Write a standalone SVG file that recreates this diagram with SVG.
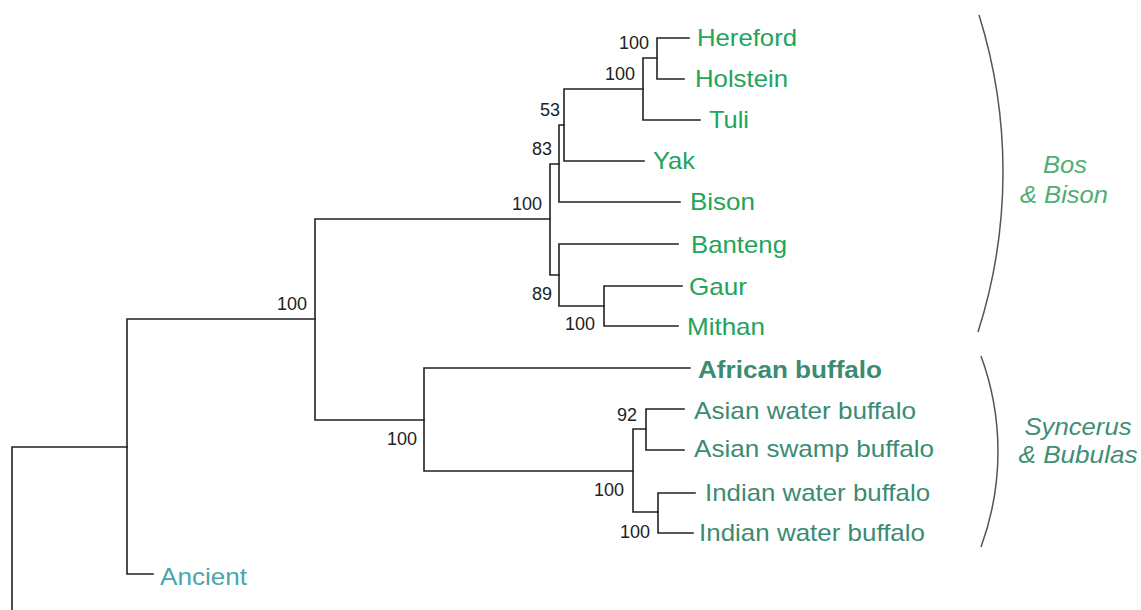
<svg xmlns="http://www.w3.org/2000/svg" width="1141" height="610" viewBox="0 0 1141 610">
<style>
.ln{fill:none;stroke:#222;stroke-width:1.6;stroke-linecap:square}
.br{fill:none;stroke:#555;stroke-width:1.5}
.num{font-family:"Liberation Sans",Arial,sans-serif;font-size:18px;fill:#222;text-anchor:end}
.lf{font-family:"Liberation Sans",Arial,sans-serif;font-size:24px}
.bos{fill:#22a45a}
.buf{fill:#3b8b73}
.anc{fill:#4aa6ad}
.grp{font-family:"Liberation Sans",Arial,sans-serif;font-size:24px;font-style:italic;text-anchor:middle}
</style>
<rect width="1141" height="610" fill="#fff"/>
<g id="connectors">
<path class="ln" d="M12,610V447H127"/>
<path class="ln" d="M127,319V574H153M127,319H315"/>
<path class="ln" d="M315,219V420H424M315,219H550"/>
<path class="ln" d="M550,164V275H559M550,164H559"/>
<path class="ln" d="M559,125V202H680M559,125H564"/>
<path class="ln" d="M564,89V161H644M564,89H643"/>
<path class="ln" d="M643,58V120H700M643,58H657"/>
<path class="ln" d="M657,38V79H684M657,38H689"/>
<path class="ln" d="M559,244V306H604M559,244H678"/>
<path class="ln" d="M604,286V326H678M604,286H682"/>
<path class="ln" d="M424,368V471H633M424,368H690"/>
<path class="ln" d="M633,429V512H658M633,429H646"/>
<path class="ln" d="M646,409V450H684M646,409H684"/>
<path class="ln" d="M658,493V533H693M658,493H695"/>
</g>
<g id="support">
<text class="num" x="649" y="49">100</text>
<text class="num" x="635" y="80">100</text>
<text class="num" x="560" y="116">53</text>
<text class="num" x="552" y="155">83</text>
<text class="num" x="542" y="210">100</text>
<text class="num" x="552" y="300">89</text>
<text class="num" x="595" y="330">100</text>
<text class="num" x="307" y="310">100</text>
<text class="num" x="417" y="445">100</text>
<text class="num" x="637" y="421">92</text>
<text class="num" x="624" y="496">100</text>
<text class="num" x="650" y="538">100</text>
</g>
<g id="hereford"><text class="lf bos" x="697" y="46" textLength="100" lengthAdjust="spacingAndGlyphs">Hereford</text></g>
<g id="holstein"><text class="lf bos" x="695" y="87" textLength="93" lengthAdjust="spacingAndGlyphs">Holstein</text></g>
<g id="tuli"><text class="lf bos" x="709" y="128" textLength="40" lengthAdjust="spacingAndGlyphs">Tuli</text></g>
<g id="yak"><text class="lf bos" x="653" y="169" textLength="42" lengthAdjust="spacingAndGlyphs">Yak</text></g>
<g id="bison"><text class="lf bos" x="690" y="210" textLength="65" lengthAdjust="spacingAndGlyphs">Bison</text></g>
<g id="banteng"><text class="lf bos" x="691" y="253" textLength="96" lengthAdjust="spacingAndGlyphs">Banteng</text></g>
<g id="gaur"><text class="lf bos" x="689" y="295" textLength="58" lengthAdjust="spacingAndGlyphs">Gaur</text></g>
<g id="mithan"><text class="lf bos" x="687" y="335" textLength="78" lengthAdjust="spacingAndGlyphs">Mithan</text></g>
<g id="african"><text class="lf buf" x="698" y="378" font-weight="bold" textLength="184" lengthAdjust="spacingAndGlyphs">African buffalo</text></g>
<g id="asian-water"><text class="lf buf" x="694" y="419" textLength="222" lengthAdjust="spacingAndGlyphs">Asian water buffalo</text></g>
<g id="asian-swamp"><text class="lf buf" x="694" y="457" textLength="240" lengthAdjust="spacingAndGlyphs">Asian swamp buffalo</text></g>
<g id="indian-1"><text class="lf buf" x="705" y="501" textLength="225" lengthAdjust="spacingAndGlyphs">Indian water buffalo</text></g>
<g id="indian-2"><text class="lf buf" x="699" y="541" textLength="226" lengthAdjust="spacingAndGlyphs">Indian water buffalo</text></g>
<g id="ancient"><text class="lf anc" x="160" y="585" textLength="87" lengthAdjust="spacingAndGlyphs">Ancient</text></g>
<g id="bos-bison-group">
<path class="br" d="M979,15A525,525 0 0 1 978,332"/>
<text class="grp" x="1065" y="173" fill="#4fae74" textLength="44" lengthAdjust="spacingAndGlyphs">Bos</text>
<text class="grp" x="1064" y="203" fill="#4fae74" textLength="88" lengthAdjust="spacingAndGlyphs">&amp; Bison</text>
</g>
<g id="syncerus-group">
<path class="br" d="M981,356A277,277 0 0 1 981,547"/>
<text class="grp" x="1078" y="435" fill="#3f8e76" textLength="107" lengthAdjust="spacingAndGlyphs">Syncerus</text>
<text class="grp" x="1078" y="463" fill="#3f8e76" textLength="119" lengthAdjust="spacingAndGlyphs">&amp; Bubulas</text>
</g>
</svg>
